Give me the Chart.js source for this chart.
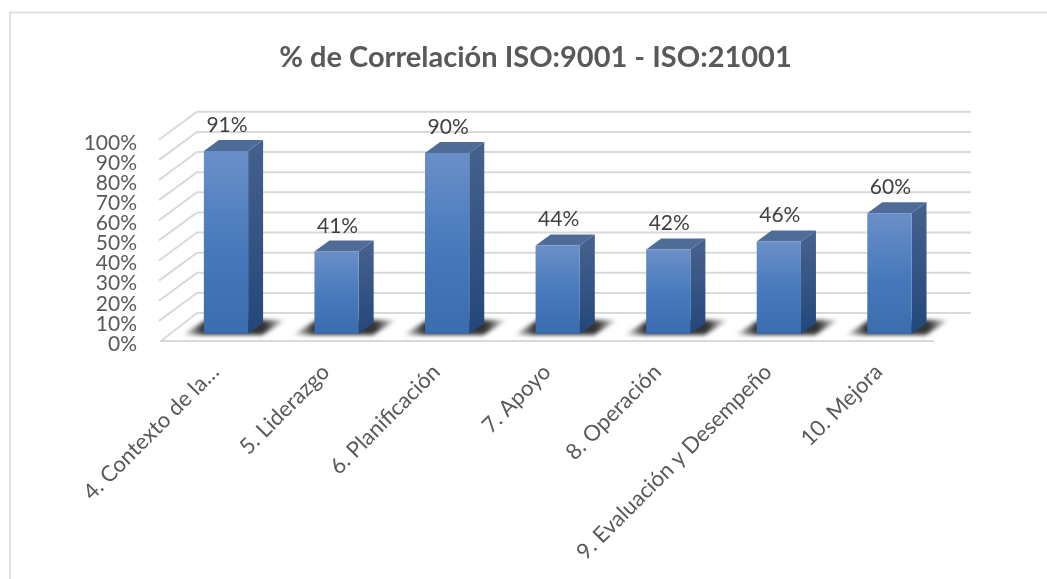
<!DOCTYPE html>
<html>
<head>
<meta charset="utf-8">
<style>
  html, body { margin: 0; background: #fff; }
  #wrap { width: 1047px; height: 579px; }
</style>
<script src="https://cdn.jsdelivr.net/npm/chart.js@4"></script>
</head>
<body>
<div id="wrap"><canvas id="chart" width="1047" height="579"></canvas></div>
<script>
const categories = ['4. Contexto de la…', '5. Liderazgo', '6. Planificación', '7. Apoyo', '8. Operación', '9. Evaluación y Desempeño', '10. Mejora'];
const correlation = [91, 41, 90, 44, 42, 46, 60];
const yTickLabels = ['0%', '10%', '20%', '30%', '40%', '50%', '60%', '70%', '80%', '90%', '100%'];

// offsets of the fake 3D box, in pixels
const wallDx = 37, wallDy = -28;
const barDx = 10.7, barDy = -7;
const depthDx = 15, depthDy = -11;

function barGradient(ctx, top, base) {
  const g = ctx.createLinearGradient(0, top, 0, base);
  g.addColorStop(0, '#6a8fc8');
  g.addColorStop(0.55, '#4679bb');
  g.addColorStop(1, '#3a6cae');
  return g;
}

const box3d = {
  id: 'box3d',
  beforeDatasetsDraw(chart) {
    const { ctx, scales: { y }, chartArea } = chart;
    // frame, the right side is cut off in the original
    ctx.save();
    ctx.strokeStyle = '#e0e0e0';
    ctx.lineWidth = 2;
    ctx.beginPath();
    ctx.moveTo(10, 579);
    ctx.lineTo(10, 12.5);
    ctx.lineTo(1047, 12.5);
    ctx.stroke();

    // wall lines
    ctx.strokeStyle = '#d9d9d9';
    y.ticks.forEach(t => {
      const py = y.getPixelForValue(t.value);
      const sx = t.value === 0 ? chartArea.left + 1 : chartArea.left - 1;
      ctx.beginPath();
      ctx.moveTo(sx, py);
      ctx.lineTo(chartArea.left + wallDx, py + wallDy);
      ctx.lineTo(chartArea.right + wallDx, py + wallDy);
      ctx.stroke();
    });
    ctx.beginPath();
    ctx.moveTo(chartArea.left, y.getPixelForValue(0));
    ctx.lineTo(chartArea.right, y.getPixelForValue(0));
    ctx.stroke();

    // shadows and side faces
    const bars = chart.getDatasetMeta(0).data;
    ctx.translate(barDx, barDy);
    bars.forEach(el => {
      const l = el.x - el.width / 2, r = el.x + el.width / 2;
      const shade = ctx.createLinearGradient(l - 22, 0, r + 38, 0);
      shade.addColorStop(0, 'rgba(30,30,30,0)');
      shade.addColorStop(0.2, 'rgba(30,30,30,0.9)');
      shade.addColorStop(0.8, 'rgba(30,30,30,0.9)');
      shade.addColorStop(1, 'rgba(30,30,30,0)');
      ctx.save();
      ctx.filter = 'blur(2px)';
      ctx.fillStyle = shade;
      ctx.beginPath();
      ctx.moveTo(l - 22, el.base + 1);
      ctx.lineTo(r + 14, el.base + 1);
      ctx.lineTo(r + 38, el.base - 14);
      ctx.lineTo(l + 2, el.base - 14);
      ctx.closePath();
      ctx.fill();
      ctx.restore();
    });
    bars.forEach(el => {
      const l = el.x - el.width / 2, r = el.x + el.width / 2;
      const side = ctx.createLinearGradient(0, el.y, 0, el.base);
      side.addColorStop(0, '#44608c');
      side.addColorStop(1, '#23477a');
      ctx.fillStyle = side;
      ctx.beginPath();
      ctx.moveTo(r, el.y);
      ctx.lineTo(r + depthDx, el.y + depthDy);
      ctx.lineTo(r + depthDx, el.base + depthDy);
      ctx.lineTo(r, el.base);
      ctx.closePath();
      ctx.fill();
      ctx.fillStyle = '#4f6c98';
      ctx.beginPath();
      ctx.moveTo(l, el.y);
      ctx.lineTo(l + depthDx, el.y + depthDy);
      ctx.lineTo(r + depthDx, el.y + depthDy);
      ctx.lineTo(r, el.y);
      ctx.closePath();
      ctx.fill();
    });
    ctx.restore();
  },
  beforeDatasetDraw(chart) {
    chart.ctx.save();
    chart.ctx.translate(barDx, barDy);
  },
  afterDatasetDraw(chart) {
    chart.ctx.restore();
  },
  afterDatasetsDraw(chart) {
    const { ctx } = chart;
    ctx.save();
    ctx.font = '21px Lato';
    ctx.fillStyle = '#404040';
    ctx.textAlign = 'center';
    ctx.textBaseline = 'alphabetic';
    chart.getDatasetMeta(0).data.forEach((el, i) => {
      ctx.fillText(correlation[i] + '%', el.x + barDx + 1, el.y + barDy - 19);
    });
    ctx.restore();
  }
};

new Chart(document.getElementById('chart'), {
  type: 'bar',
  plugins: [box3d],
  data: {
    labels: categories,
    datasets: [{
      data: correlation,
      yAxisID: 'y',
      clip: false,
      barPercentage: 0.4,
      categoryPercentage: 1,
      backgroundColor(c) {
        const { chart, dataIndex } = c;
        const y = chart.scales.y;
        const top = y ? y.getPixelForValue(correlation[dataIndex]) : NaN;
        const base = y ? y.getPixelForValue(0) : NaN;
        if (!isFinite(top) || !isFinite(base)) return '#4679bb';
        return barGradient(chart.ctx, top, base);
      }
    }]
  },
  options: {
    responsive: false,
    animation: false,
    layout: { padding: { left: 24, top: 0, right: 0, bottom: 0 } },
    plugins: {
      legend: { display: false },
      tooltip: { enabled: false },
      title: {
        display: true,
        text: '% de Correlación ISO:9001 - ISO:21001',
        color: '#595959',
        font: { family: 'Lato', size: 29, weight: 'bold' },
        padding: { top: 40, bottom: 65 }
      }
    },
    scales: {
      x: {
        grid: { display: false, drawTicks: false },
        border: { display: false },
        afterFit(s) { s.height = 238; },
        ticks: {
          autoSkip: false,
          minRotation: 45,
          maxRotation: 45,
          padding: 18,
          color: '#595959',
          font: { family: 'Lato', size: 22 }
        }
      },
      y: {
        min: 0,
        max: 100,
        grid: { display: false, drawTicks: false },
        border: { display: false },
        afterFit(s) { s.width = 136; },
        ticks: {
          autoSkip: false,
          stepSize: 10,
          padding: 23,
          labelOffset: 3,
          color: '#595959',
          font: { family: 'Lato', size: 21 },
          callback: v => yTickLabels[v / 10]
        }
      },
      // empty axis, only keeps the plot clear of the right edge so the title can centre on the full width
      yRight: {
        axis: 'y',
        position: 'right',
        grid: { display: false, drawTicks: false },
        border: { display: false },
        ticks: { display: false },
        afterFit(s) { s.width = 113; }
      }
    }
  }
});
</script>
</body>
</html>
